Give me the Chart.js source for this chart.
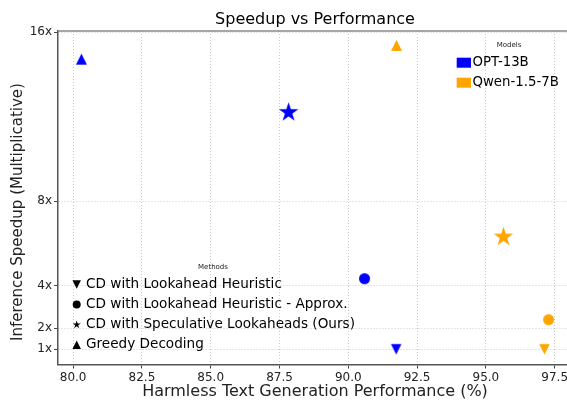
<!DOCTYPE html>
<html>
<head>
<meta charset="utf-8">
<script src="https://cdn.jsdelivr.net/npm/chart.js@4"></script>
<style>
  body { margin: 0; overflow: hidden; background: #fff; }
  #wrap { width: 580px; height: 401px; }
</style>
</head>
<body>
<div id="wrap"><canvas id="chart" width="580" height="401"></canvas></div>
<script>
const models = ['OPT-13B', 'Qwen-1.5-7B'];
const modelColors = ['#0000ff', '#ffa500'];
const methods = [
    'CD with Lookahead Heuristic',
    'CD with Lookahead Heuristic - Approx.',
    'CD with Speculative Lookaheads (Ours)',
    'Greedy Decoding'
];
const methodShapes = ['triangleDown', 'circle', 'star', 'triangleUp'];

// harmless performance (%) and speedup, one entry per method
const optPerf = [91.74, 90.59, 87.83, 80.30];
const optSpeed = [1.0, 4.34, 12.2, 14.72];
const qwenPerf = [97.13, 97.28, 95.64, 91.75];
const qwenSpeed = [1.0, 2.4, 6.31, 15.37];

const xTicks = [80, 82.5, 85, 87.5, 90, 92.5, 95, 97.5];
const yTicks = [1, 2, 4, 8, 16];

const FONT = "'DejaVu Sans', sans-serif";

function shapePath(ctx, shape, cx, cy, size){
    const h = size / 2;
    ctx.beginPath();
    if(shape === 'triangleUp'){
        ctx.moveTo(cx, cy - h);
        ctx.lineTo(cx - h, cy + h);
        ctx.lineTo(cx + h, cy + h);
    } else if(shape === 'triangleDown'){
        ctx.moveTo(cx, cy + h);
        ctx.lineTo(cx - h, cy - h);
        ctx.lineTo(cx + h, cy - h);
    } else if(shape === 'circle'){
        ctx.arc(cx, cy, h, 0, 2 * Math.PI);
    } else if(shape === 'star'){
        const inner = h * 0.382;
        for(let i = 0; i < 10; i++){
            const r = i % 2 === 0 ? h : inner;
            const a = i * Math.PI / 5;
            const px = cx + r * Math.sin(a);
            const py = cy - r * Math.cos(a);
            if(i === 0) ctx.moveTo(px, py); else ctx.lineTo(px, py);
        }
    }
    ctx.closePath();
}

function makeMarker(shape, color, size){
    const c = document.createElement('canvas');
    const s = Math.ceil(size) + 2;
    c.width = s;
    c.height = s;
    const ctx = c.getContext('2d');
    ctx.fillStyle = color;
    shapePath(ctx, shape, s / 2, s / 2, size);
    ctx.fill();
    return c;
}

const markerSize = {triangleUp: 11, triangleDown: 10.5, circle: 11, star: 20.4};
const legendSize = {triangleUp: 8.5, triangleDown: 8.5, circle: 8, star: 8.5};

function toPoints(xs, ys){
    return xs.map((x, i) => ({x: x, y: ys[i]}));
}

const decorPlugin = {
    id: 'decor',
    afterDraw(chart){
        const ctx = chart.ctx;
        const area = chart.chartArea;
        ctx.save();

        // top spine
        ctx.strokeStyle = '#888';
        ctx.lineWidth = 1.5;
        ctx.beginPath();
        ctx.moveTo(area.left, area.top);
        ctx.lineTo(area.right, area.top);
        ctx.stroke();

        ctx.textBaseline = 'middle';

        // title, centred over the axes
        ctx.fillStyle = '#000';
        ctx.textAlign = 'center';
        ctx.font = '16px ' + FONT;
        ctx.fillText('Speedup vs Performance', (area.left + area.right) / 2, 20);

        // y axis title
        ctx.save();
        ctx.translate(18.5, 212);
        ctx.rotate(-Math.PI / 2);
        ctx.fillStyle = '#222';
        ctx.font = '15px ' + FONT;
        ctx.fillText('Inference Speedup (Multiplicative)', 0, 0);
        ctx.restore();

        // models legend
        ctx.fillStyle = '#222';
        ctx.textAlign = 'center';
        ctx.font = '7px ' + FONT;
        ctx.fillText('Models', 509, 45);
        ctx.textAlign = 'left';
        ctx.font = '13.3px ' + FONT;
        for(let i = 0; i < models.length; i++){
            const y = 62.7 + i * 20;
            ctx.fillStyle = modelColors[i];
            ctx.fillRect(456.7, y - 5, 14.3, 10);
            ctx.fillStyle = '#000';
            ctx.fillText(models[i], 472.5, y);
        }

        // methods legend
        ctx.fillStyle = '#222';
        ctx.textAlign = 'center';
        ctx.font = '7px ' + FONT;
        ctx.fillText('Methods', 213, 267);
        ctx.textAlign = 'left';
        ctx.font = '13.6px ' + FONT;
        for(let i = 0; i < methods.length; i++){
            const y = 284.5 + i * 20.1;
            ctx.fillStyle = '#000';
            shapePath(ctx, methodShapes[i], 76.7, y, legendSize[methodShapes[i]]);
            ctx.fill();
            ctx.fillText(methods[i], 86, y);
        }
        ctx.restore();
    }
};

new Chart('chart', {
    type: 'scatter',
    data: {
        datasets: [
            {
                label: models[0],
                data: toPoints(optPerf, optSpeed),
                pointStyle: methodShapes.map(s => makeMarker(s, modelColors[0], markerSize[s])),
                backgroundColor: modelColors[0]
            },
            {
                label: models[1],
                data: toPoints(qwenPerf, qwenSpeed),
                pointStyle: methodShapes.map(s => makeMarker(s, modelColors[1], markerSize[s])),
                backgroundColor: modelColors[1]
            }
        ]
    },
    options: {
        responsive: false,
        animation: false,
        layout: {padding: {left: 0, right: 8, top: 31, bottom: 0}},
        plugins: {
            legend: {display: false},
            tooltip: {enabled: false},
            title: {display: false}
        },
        scales: {
            x: {
                type: 'linear',
                min: 79.45,
                max: 98.13,
                afterBuildTicks: scale => { scale.ticks = xTicks.map(v => ({value: v})); },
                afterFit: scale => { scale.height = 36.5; },
                ticks: {
                    color: '#222',
                    font: {family: FONT, size: 12},
                    padding: 2,
                    maxRotation: 0,
                    callback: v => v.toFixed(1)
                },
                grid: {
                    color: 'rgba(0,0,0,0.2)',
                    tickColor: '#444',
                    tickLength: 4,
                    tickBorderDash: []
                },
                border: {display: true, color: '#555', width: 1.5, dash: [1, 2]},
                title: {
                    display: true,
                    text: 'Harmless Text Generation Performance (%)',
                    color: '#222',
                    font: {family: FONT, size: 16},
                    padding: {top: 0, bottom: 0}
                }
            },
            y: {
                type: 'linear',
                min: 0.28,
                max: 16.05,
                afterBuildTicks: scale => { scale.ticks = yTicks.map(v => ({value: v})); },
                afterFit: scale => { scale.width = 58; },
                ticks: {
                    color: '#222',
                    font: {family: FONT, size: 12},
                    padding: 2,
                    callback: v => v + 'x'
                },
                grid: {
                    color: 'rgba(0,0,0,0.2)',
                    tickColor: '#444',
                    tickLength: 4,
                    tickBorderDash: []
                },
                border: {display: true, color: '#555', width: 1.5, dash: [1, 2]}
            }
        }
    },
    plugins: [decorPlugin]
});
</script>
</body>
</html>
